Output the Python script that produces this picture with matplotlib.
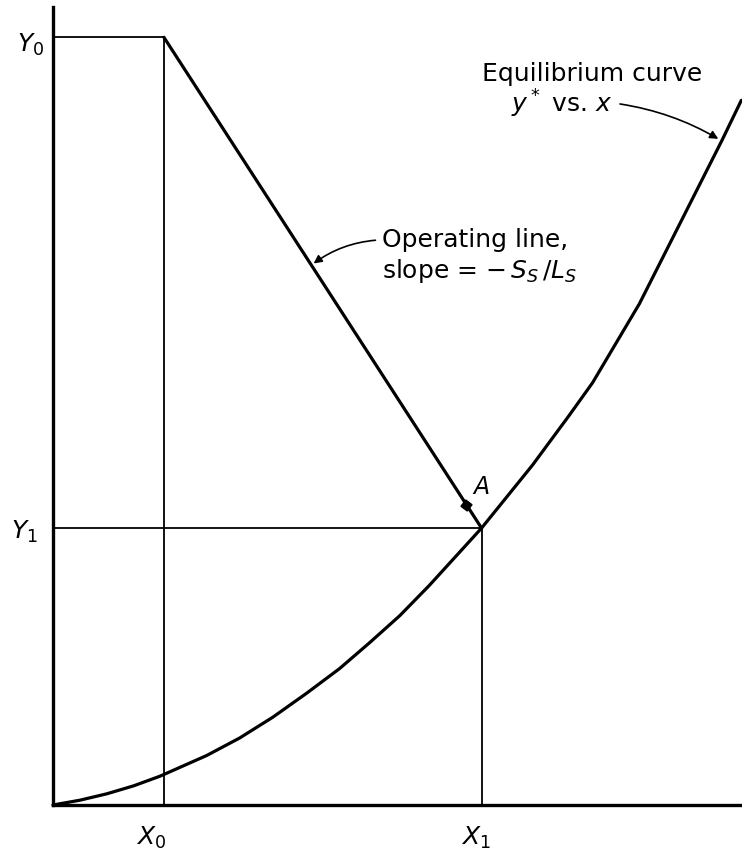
import matplotlib
matplotlib.use("Agg")
import matplotlib.pyplot as plt

# Equilibrium curve y* vs. x (normalised diagram units)
eq_x = [0.000, 0.039, 0.078, 0.117, 0.155, 0.223, 0.271, 0.319, 0.368, 0.416, 0.459,
        0.503, 0.546, 0.622, 0.696, 0.749, 0.783, 0.851, 0.923, 0.971, 0.999]
eq_y = [0.000, 0.006, 0.014, 0.024, 0.036, 0.062, 0.084, 0.110, 0.140, 0.171, 0.203,
        0.237, 0.275, 0.347, 0.426, 0.488, 0.529, 0.628, 0.751, 0.833, 0.883]

# Entering / leaving compositions
X0, Y0 = 0.161, 0.962
X1, Y1 = 0.622, 0.347

# Operating line end points and point A on it
op_x = [X0, X1]
op_y = [Y0, Y1]
A_x = 0.600

tick_labels = {"X0": r"$X_0$", "X1": r"$X_1$", "Y0": r"$Y_0$", "Y1": r"$Y_1$"}

plt.rcParams["font.family"] = ["DejaVu Sans"]
plt.rcParams["mathtext.fontset"] = "dejavusans"

W, H = 742, 854
fig = plt.figure(figsize=(W / 100, H / 100), dpi=100)
ax = fig.add_axes([53 / W, (H - 806) / H, (W - 53) / W, (806 - 8) / H])
ax.set_xlim(0, 1)
ax.set_ylim(0, 1)
for side in ("top", "right"):
    ax.spines[side].set_visible(False)
for side in ("left", "bottom"):
    ax.spines[side].set_linewidth(2.4)
    ax.spines[side].set_color("black")
ax.set_xticks([])
ax.set_yticks([])

# construction lines
thin = dict(color="black", lw=1.3)
ax.plot([0, X0], [Y0, Y0], **thin)
ax.plot([X0, X0], [0, Y0], **thin)
ax.plot([0, X1], [Y1, Y1], **thin)
ax.plot([X1, X1], [0, Y1], **thin)

# equilibrium curve and operating line
ax.plot(eq_x, eq_y, color="black", lw=2.3, solid_capstyle="round",
        solid_joinstyle="round", clip_on=False)
ax.plot(op_x, op_y, color="black", lw=2.3, solid_capstyle="round")

slope = (op_y[1] - op_y[0]) / (op_x[1] - op_x[0])
A_y = Y1 + (A_x - X1) * slope
ax.plot([A_x], [A_y], marker=(4, 0, 8), ms=8, color="black")
ax.text(A_x + 0.022, A_y + 0.024, "A", fontsize=17, style="italic",
        ha="center", va="center")

# axis labels at the compositions
lab = dict(fontsize=18, ha="center", va="center")
ax.text(-0.033, 0.954, tick_labels["Y0"], **lab)
ax.text(-0.041, Y1 - 0.003, tick_labels["Y1"], **lab)
ax.text(X0 - 0.018, -0.040, tick_labels["X0"], **lab)
ax.text(X1 - 0.008, -0.040, tick_labels["X1"], **lab)

# operating line annotation
ann = dict(fontsize=18, ha="left", va="center")
ax.text(0.478, 0.709, "Operating line,", **ann)
ax.text(0.478, 0.670, r"slope = $-\,S_S\,/L_S$", **ann)
op_pt_x = 0.375
op_pt_y = Y0 + (op_pt_x - X0) * slope
ax.annotate("", xy=(op_pt_x, op_pt_y), xytext=(0.472, 0.708),
            arrowprops=dict(arrowstyle="-|>", color="black", lw=1.2,
                            mutation_scale=12,
                            connectionstyle="arc3,rad=0.15"))

# equilibrium curve annotation
ax.text(0.623, 0.917, "Equilibrium curve", **ann)
ax.text(0.812, 0.880, r"$y^*$ vs. $x$", fontsize=18, ha="right", va="center")
ax.annotate("", xy=(eq_x[19] - 0.002, eq_y[19]), xytext=(0.819, 0.879),
            arrowprops=dict(arrowstyle="-|>", color="black", lw=1.2,
                            mutation_scale=12,
                            connectionstyle="arc3,rad=-0.1"))

fig.savefig("out.png", dpi=100)
